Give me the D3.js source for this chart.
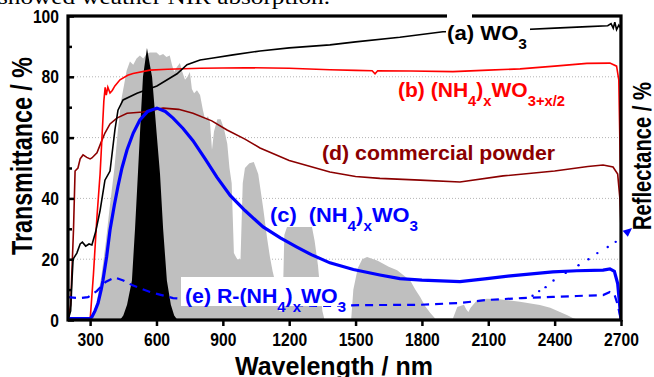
<!DOCTYPE html>
<html>
<head>
<meta charset="utf-8">
<script src="https://cdn.jsdelivr.net/npm/d3@7"></script>
<style>
  body { margin: 0; background: #fff; }
  svg { display: block; font-family: "Liberation Sans Narrow", "Arial Narrow", "Liberation Sans", Arial, sans-serif; font-weight: bold; }
</style>
</head>
<body>
<div id="chart"></div>
<script>
// x values in nm, y values in %
var xTicks = [300, 600, 900, 1200, 1500, 1800, 2100, 2400, 2700];
var yTicks = [0, 20, 40, 60, 80, 100];
var yMinor = [10, 30, 50, 70, 90];

// (a) WO3
var curveA = [[200,0],[212,3],[218,13],[223,20],[240,22],[255,25],[265,25.6],[280,24.3],[295,25],[308,24.7],[325,29],[345,36],[367,46],[390,49],[412,62.5],[426,69],[449,72.4],[512,74.6],[602,77],[693,81],[738,84],[797,85.5],[856,86.2],[946,87.2],[1068,88.5],[1200,89.5],[1384,90.5],[1500,91.5],[1700,93],[1895,94.8],[2100,95],[2243,95.5],[2400,96],[2550,96.5],[2640,96.8],[2655,97.5],[2665,96],[2672,98],[2680,95.5],[2690,97],[2698,96],[2700,25]];
// (b) (NH4)xWO3+x/2
var curveB = [[300,0],[315,15],[330,33],[345,48],[355,62],[362,72],[368,76.5],[373,74],[380,76.6],[390,74.7],[400,75.5],[412,77],[435,79],[470,80.5],[494,81.1],[571,82.2],[650,82.5],[797,82.8],[1000,83],[1200,82.8],[1384,82.3],[1500,82.1],[1575,82],[1588,81],[1600,82],[1750,81.9],[1940,81.7],[2100,82.2],[2244,82.6],[2400,83.5],[2546,84.4],[2650,84.5],[2680,83.5],[2690,79],[2697,50],[2700,30]];
// (c) (NH4)xWO3
var curveC = [[200,0.5],[300,0.5],[308,1],[322,3],[336,5.6],[350,10],[358,13],[375,21],[390,29.6],[410,38],[426,44],[444,50],[467,56],[495,61.5],[525,65.8],[560,68.6],[602,69.7],[640,68.6],[675,66.4],[720,63],[765,59],[820,53],[873,47],[933,41],[1000,36],[1082,30.6],[1160,27],[1235,24],[1300,21.5],[1384,18.8],[1490,16.6],[1610,14.8],[1700,13.6],[1800,13.1],[1972,12.6],[2094,13.6],[2200,14.5],[2392,15.8],[2500,16.2],[2619,16.4],[2650,16.8],[2670,16],[2685,12],[2695,4],[2700,0]];
// (d) commercial powder
var curveD = [[200,0],[212,5],[225,30],[232,49],[245,50],[255,53],[268,54.3],[285,53.5],[300,53],[308,53.3],[331,55],[350,58.5],[367,61.5],[390,64.5],[421,66.4],[467,68],[539,68.4],[630,69.7],[700,69.3],[765,68],[850,65.5],[919,62.5],[1000,59.5],[1068,56.6],[1200,52.5],[1384,48.7],[1500,47.2],[1610,46.6],[1792,46],[1972,45.4],[2167,47.4],[2400,49],[2550,50.5],[2619,51],[2664,50.3],[2685,48],[2695,40],[2700,30]];
// (e) R-(NH4)xWO3
var curveE = [[200,7.5],[254,7.2],[290,7.5],[330,9.5],[370,12.5],[412,14],[450,13],[489,11.5],[571,9.2],[675,7.2],[800,6.5],[950,5.8],[1100,5.2],[1235,4.9],[1340,4.6],[1534,4.9],[1791,5],[1972,5.6],[2094,6.6],[2250,7.2],[2392,7.6],[2500,7.9],[2619,8.2],[2650,9.2],[2670,8.5],[2685,5],[2700,0]];
// sparse dots leading to the reflectance axis
var dotsR = [[2300,8],[2330,9.5],[2359,10.8],[2395,13],[2450,15.5],[2508,18],[2553,20],[2593,22],[2640,24],[2676,25.7]];
// solar spectrum (grey) and eye sensitivity (black)
var solar = [[300,0],[310,1],[330,6],[350,14],[370,25],[390,38],[410,50],[425,62],[440,72],[455,78],[465,82],[480,85],[495,84],[510,86],[525,87],[540,86],[555,87.5],[570,88],[590,88],[600,88],[615,87],[630,87.5],[645,86.5],[660,87],[670,84],[680,81.6],[690,83],[706,84.5],[715,82],[729,79],[740,80],[751,81.6],[760,76],[770,74.6],[783,75.6],[797,74],[810,69],[820,66],[833,67],[842,65],[851,56],[860,62],[875,66],[890,66],[905,63],[920,58],[930,50],[940,45],[950,22],[965,20],[980,20],[990,45],[1000,50],[1020,51.6],[1040,52],[1060,48],[1082,37],[1100,27],[1113,20.7],[1125,16],[1135,13],[1145,8],[1155,3],[1170,3],[1178,28],[1190,30.6],[1250,30.6],[1303,30.6],[1315,26],[1330,18],[1340,10],[1350,3],[1360,0],[1480,0],[1490,10],[1510,17],[1530,20],[1552,20.7],[1600,19.5],[1650,17.5],[1688,16.4],[1747,13],[1770,10],[1792,7.6],[1815,4.5],[1838,2.3],[1860,0.5],[1940,0.5],[1960,4.3],[1990,5],[2000,3.5],[2010,2.6],[2020,4],[2050,6.6],[2094,7],[2150,6.8],[2243,6],[2333,4.9],[2380,4],[2424,2.6],[2460,1.5],[2484,0.6],[2510,0]];
var eye = [[435,0],[450,1.5],[467,5],[489,13],[503,30],[516,48],[530,68],[539,80],[557,89.5],[570,84],[580,80],[600,62],[616,48],[630,30],[647,13],[665,5],[680,1.5],[695,0]];

var W = 654, H = 377;
var margin = {top: 16, right: 33, bottom: 57, left: 68};
var width = W - margin.left - margin.right;
var height = H - margin.top - margin.bottom;

var svg = d3.select("#chart").append("svg").attr("width", W).attr("height", H);

// caption line of the page above the figure, cut off
svg.append("text")
  .attr("x", -2).attr("y", 4)
  .attr("textLength", 332).attr("lengthAdjust", "spacingAndGlyphs")
  .style("font-family", "'Liberation Serif', 'Times New Roman', serif")
  .style("font-weight", "normal").style("font-size", "21px")
  .text("showed weather NIR absorption.");

var g = svg.append("g").attr("transform", "translate(" + margin.left + "," + margin.top + ")");

var x = d3.scaleLinear().domain([200, 2700]).range([0, width]);
var y = d3.scaleLinear().domain([0, 100]).range([height, 0]);

g.append("clipPath").attr("id", "clip").append("rect")
  .attr("x", 0).attr("y", -2).attr("width", width).attr("height", height + 2);

// grid
g.selectAll(".grid").data([20, 40, 60, 80]).enter().append("line")
  .attr("x1", 0).attr("x2", width)
  .attr("y1", function(d) { return y(d); }).attr("y2", function(d) { return y(d); })
  .attr("stroke", "#b4b4b4").attr("stroke-width", 1).attr("stroke-dasharray", "1,2");

var area = d3.area()
  .x(function(d) { return x(d[0]); })
  .y0(y(0))
  .y1(function(d) { return y(d[1]); });
var line = d3.line()
  .x(function(d) { return x(d[0]); })
  .y(function(d) { return y(d[1]); });

var plot = g.append("g").attr("clip-path", "url(#clip)");
plot.append("path").attr("d", area(solar)).attr("fill", "#bfbfbf");
plot.append("path").attr("d", area(eye)).attr("fill", "#000");

plot.append("path").attr("d", line(curveD)).attr("fill", "none").attr("stroke", "#8b0000").attr("stroke-width", 1.6);
plot.append("path").attr("d", line(curveB)).attr("fill", "none").attr("stroke", "#ff0000").attr("stroke-width", 1.6);
plot.append("path").attr("d", line(curveA)).attr("fill", "none").attr("stroke", "#000").attr("stroke-width", 1.6);
plot.append("path").attr("d", line(curveC)).attr("fill", "none").attr("stroke", "#0000ff").attr("stroke-width", 3.2);
plot.append("path").attr("d", line(curveE)).attr("fill", "none").attr("stroke", "#0000ff").attr("stroke-width", 2.2)
  .attr("stroke-dasharray", "8,6");
plot.selectAll(".dot").data(dotsR).enter().append("circle")
  .attr("cx", function(d) { return x(d[0]); })
  .attr("cy", function(d) { return y(d[1]); })
  .attr("r", 1.2).attr("fill", "#0000ff");

// arrow pointing to the right axis
var last = dotsR[dotsR.length - 1];
var tip = [x(2750), y(30.3)];
var from = [x(last[0]), y(last[1])];
var ang = Math.atan2(tip[1] - from[1], tip[0] - from[0]);
var hl = 9, hw = 4;
var bx = tip[0] - hl * Math.cos(ang), by = tip[1] - hl * Math.sin(ang);
g.append("path")
  .attr("d", "M" + tip[0] + "," + tip[1] +
    "L" + (bx + hw * Math.sin(ang)) + "," + (by - hw * Math.cos(ang)) +
    "L" + (bx - hw * Math.sin(ang)) + "," + (by + hw * Math.cos(ang)) + "Z")
  .attr("fill", "#0000ff");

// axes
var yAxis = g.append("g").call(d3.axisLeft(y).tickValues(yTicks).tickSize(-6).tickPadding(9));
var yAxisMinor = g.append("g").call(d3.axisLeft(y).tickValues(yMinor).tickSize(-4).tickFormat(""));
var xAxis = g.append("g").attr("transform", "translate(0," + height + ")")
  .call(d3.axisBottom(x).tickValues(xTicks).tickFormat(d3.format("d")).tickSize(6).tickPadding(7));

[yAxis, yAxisMinor, xAxis].forEach(function(a) {
  a.select(".domain").remove();
  a.selectAll("line").attr("stroke", "#000").attr("stroke-width", 2.5);
  a.selectAll("text").attr("fill", "#000").style("font-size", "19px").style("font-family", null)
    .attr("textLength", function() { return this.textContent.length * 8.7; })
    .attr("lengthAdjust", "spacingAndGlyphs");
});

g.append("rect").attr("x", 0).attr("y", 0).attr("width", width).attr("height", height)
  .attr("fill", "none").attr("stroke", "#000").attr("stroke-width", 3.2);

// axis titles
svg.append("text")
  .attr("transform", "translate(32,156) rotate(-90)")
  .attr("text-anchor", "middle")
  .attr("textLength", 198).attr("lengthAdjust", "spacingAndGlyphs")
  .style("font-size", "29px")
  .text("Transmittance / %");
svg.append("text")
  .attr("transform", "translate(651,156) rotate(-90)")
  .attr("text-anchor", "middle")
  .attr("textLength", 148).attr("lengthAdjust", "spacingAndGlyphs")
  .style("font-size", "25px")
  .text("Reflectance / %");
svg.append("text")
  .attr("x", 334).attr("y", 375)
  .attr("text-anchor", "middle")
  .attr("textLength", 198).attr("lengthAdjust", "spacingAndGlyphs")
  .style("font-size", "25px")
  .text("Wavelength / nm");

// curve labels
function label(x0, y0, color, size, len, parts) {
  var t = svg.append("text").attr("x", x0).attr("y", y0).attr("fill", color)
    .style("font-size", size + "px").style("white-space", "pre")
    .attr("textLength", len).attr("lengthAdjust", "spacingAndGlyphs");
  var down = false;
  parts.forEach(function(p) {
    var dy = 0;
    if (p[1] && !down) { dy = size * 0.45; down = true; }
    else if (!p[1] && down) { dy = -size * 0.45; down = false; }
    t.append("tspan").attr("dy", dy)
      .style("font-size", p[1] ? Math.round(size * 0.68) + "px" : null)
      .text(p[0]);
  });
  return t;
}

// white boxes behind (a) and (e)
svg.append("rect").attr("x", 447).attr("y", 13).attr("width", 25).attr("height", 8).attr("fill", "#fff");
svg.append("rect").attr("x", 446).attr("y", 19).attr("width", 84).attr("height", 30).attr("fill", "#fff");
svg.append("rect").attr("x", 181).attr("y", 277).attr("width", 162).attr("height", 29).attr("fill", "#fff");

label(447, 40, "#000", 20, 80, [["(a) WO", false], ["3", true]]);
label(398, 97, "#ff0000", 20, 167, [["(b) (NH", false], ["4", true], [")", false], ["x", true], ["WO", false], ["3+x/2", true]]);
label(270, 222, "#0000ff", 20, 148, [["(c)  (NH", false], ["4", true], [")", false], ["x", true], ["WO", false], ["3", true]]);
label(322, 160, "#8b0000", 20, 233, [["(d) commercial powder", false]]);
label(185, 303, "#0000ff", 20, 161, [["(e) R-(NH", false], ["4", true], [")", false], ["x", true], ["WO", false], ["3", true]]);
</script>
</body>
</html>
